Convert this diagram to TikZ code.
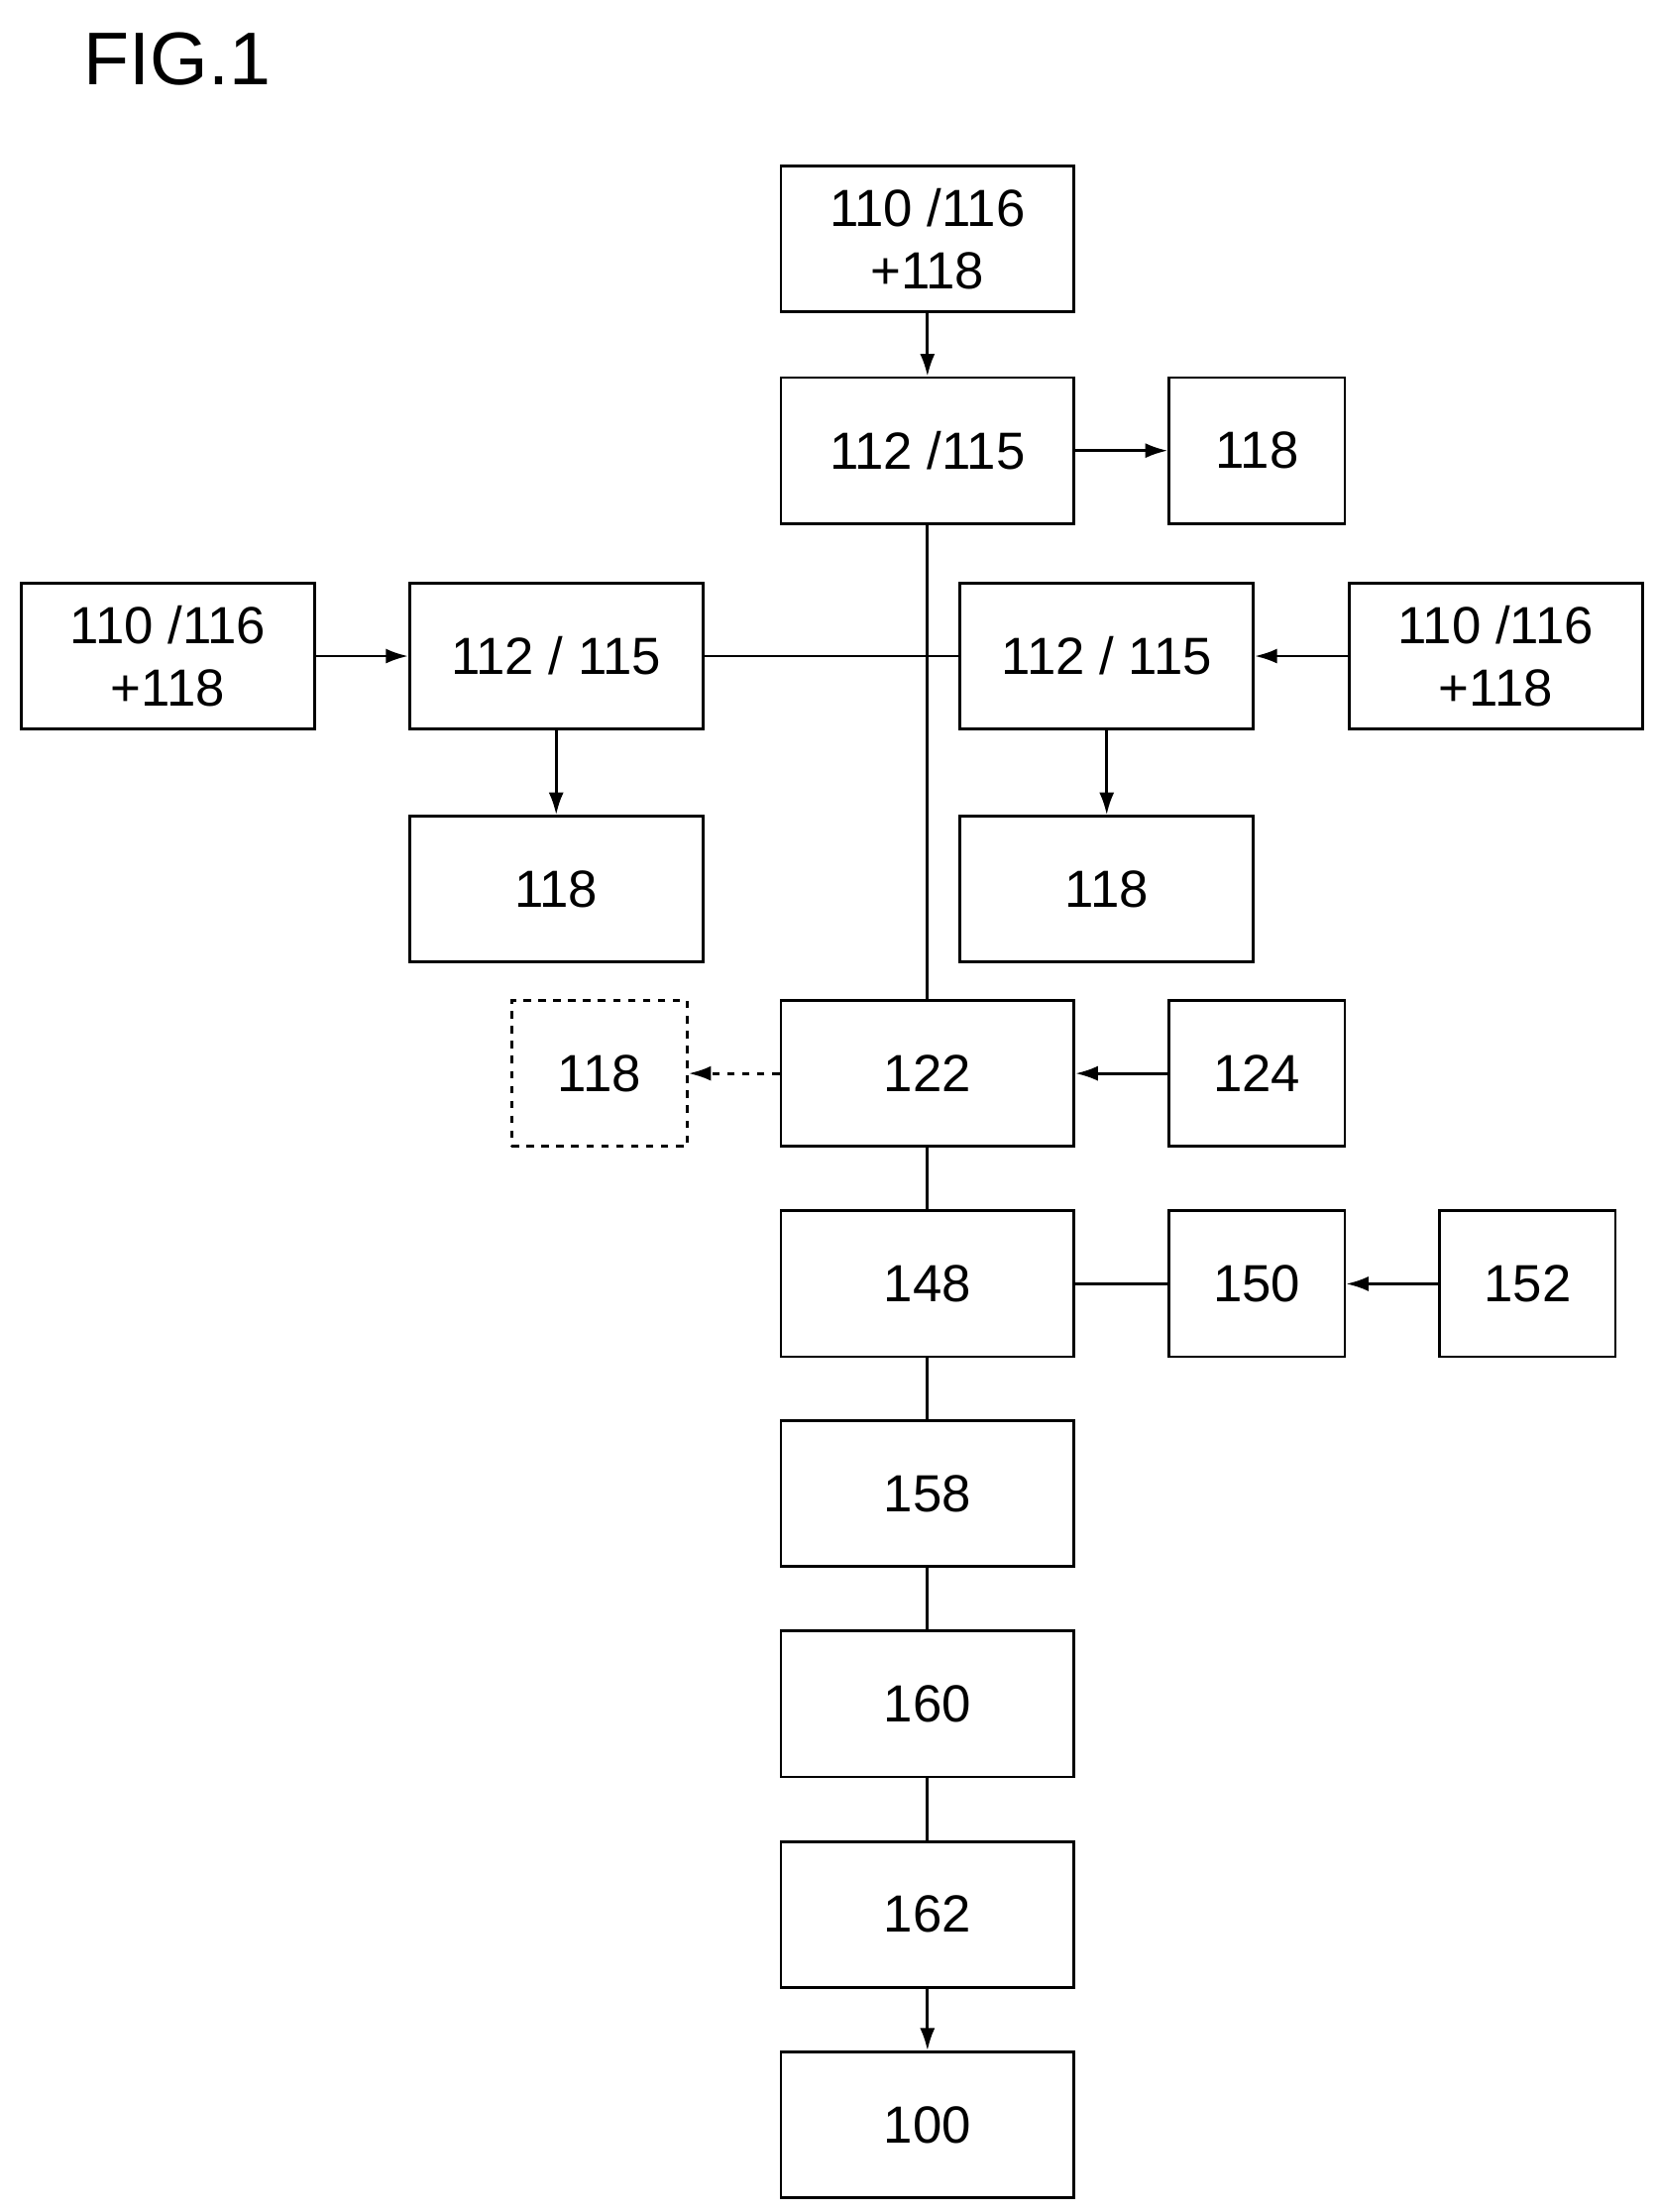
\documentclass[tikz,border=0pt]{standalone}
\usepackage{fontspec}
\setmainfont{Liberation Sans}
\usetikzlibrary{arrows.meta}

\begin{document}
\begin{tikzpicture}[x=0.02cm, y=-0.02cm, line width=1.1pt,
    font=\fontsize{21}{25}\selectfont,
    wbox/.style={draw, rectangle, minimum width=4.14cm, minimum height=2.06cm, align=center, inner sep=0pt},
    sbox/.style={draw, rectangle, minimum width=2.48cm, minimum height=2.06cm, inner sep=0pt},
    >={Latex[length=9pt, width=6pt]}]
  \useasboundingbox (0,0) rectangle (1170,1561);

  % Title
  \node[font=\fontsize{30}{34}\selectfont] (title) at (125,42) {FIG.1};

  % Main column
  \node[wbox] (in0) at (654.5,168.5) {110 /116\\+118};
  \node[wbox] (p0) at (654.5,318) {112 /115};
  \node[sbox] (w0) at (887,318) {118};

  % Side branches
  \node[wbox] (inL) at (118.5,463) {110 /116\\+118};
  \node[wbox] (pL) at (392.5,463) {112 / 115};
  \node[wbox] (pR) at (781,463) {112 / 115};
  \node[wbox] (inR) at (1055.5,463) {110 /116\\+118};
  \node[wbox] (wL) at (392.5,627.5) {118};
  \node[wbox] (wR) at (781,627.5) {118};

  % Lower column
  \node[sbox, dashed] (wD) at (423,757.5) {118};
  \node[wbox] (s122) at (654.5,757.5) {122};
  \node[sbox] (s124) at (887,757.5) {124};
  \node[wbox] (s148) at (654.5,906) {148};
  \node[sbox] (s150) at (887,906) {150};
  \node[sbox] (s152) at (1078,906) {152};
  \node[wbox] (s158) at (654.5,1054) {158};
  \node[wbox] (s160) at (654.5,1202.5) {160};
  \node[wbox] (s162) at (654.5,1351) {162};
  \node[wbox] (s100) at (654.5,1499.5) {100};

  % Arrows
  \draw [->] (in0) -- (p0);
  \draw [->] (p0) -- (w0);
  \draw [->] (inL) -- (pL);
  \draw [->] (inR) -- (pR);
  \draw [->] (pL) -- (wL);
  \draw [->] (pR) -- (wR);
  \draw [->, dashed] (s122) -- (wD);
  \draw [->] (s124) -- (s122);
  \draw [->] (s152) -- (s150);
  \draw [->] (s162) -- (s100);

  % Plain lines
  \draw (p0) -- (s122);
  \draw (pL) -- (pR);
  \draw (s122) -- (s148);
  \draw (s148) -- (s150);
  \draw (s148) -- (s158);
  \draw (s158) -- (s160);
  \draw (s160) -- (s162);
\end{tikzpicture}
\end{document}
